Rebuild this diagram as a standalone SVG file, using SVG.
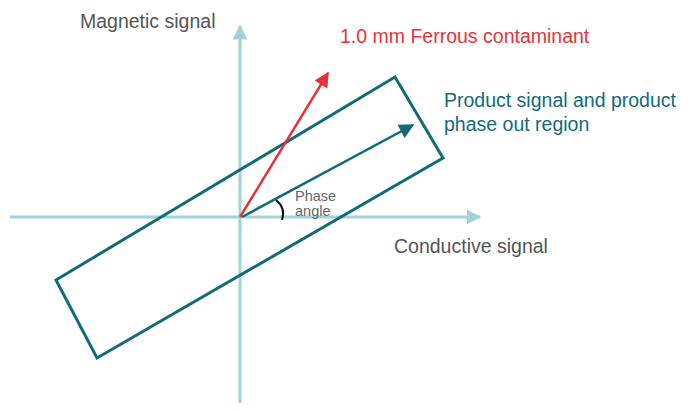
<svg xmlns="http://www.w3.org/2000/svg" width="700" height="412" viewBox="0 0 700 412">
<style>
.ax{stroke:#9fd3dc;stroke-width:3;fill:none}
.t{font-family:"Liberation Sans",Arial,sans-serif}
</style>
<defs>
<marker id="axh" viewBox="0 0 10 10" refX="9" refY="5" markerWidth="5" markerHeight="5" orient="auto"><path d="M0,0L10,5L0,10z" fill="#9fd3dc"/></marker>
<marker id="rh" viewBox="0 0 10 10" refX="9" refY="5" markerWidth="7" markerHeight="6" orient="auto"><path d="M0,0L10,5L0,10z" fill="#e8323a"/></marker>
<marker id="bh" viewBox="0 0 10 10" refX="9" refY="5" markerWidth="7" markerHeight="6" orient="auto"><path d="M0,0L10,5L0,10z" fill="#136b7a"/></marker>
</defs>
<g id="axes">
<line class="ax" x1="240" y1="403" x2="240" y2="26" marker-end="url(#axh)"/>
<line class="ax" x1="10" y1="217" x2="480" y2="217" marker-end="url(#axh)"/>
</g>
<g id="region"><polygon points="56,280 97,358 443,158 395,77" fill="none" stroke="#136b7a" stroke-width="3"/></g>
<g id="connectors">
<line x1="240" y1="217" x2="328" y2="73" stroke="#e8323a" stroke-width="2.5" marker-end="url(#rh)"/>
<line x1="242" y1="217" x2="413" y2="125" stroke="#136b7a" stroke-width="2.5" marker-end="url(#bh)"/>
<path d="M276,200 Q286,208 282,220" fill="none" stroke="#111" stroke-width="2"/>
</g>
<g id="labels" class="t">
<text x="80" y="28" font-size="19.5" fill="#555">Magnetic signal</text>
<text x="340" y="43" font-size="19.5" fill="#e8323a">1.0 mm Ferrous contaminant</text>
<text x="444" y="107" font-size="19.5" fill="#136b7a">Product signal and product</text>
<text x="444" y="131" font-size="19.5" fill="#136b7a">phase out region</text>
<text x="394" y="253" font-size="19.5" fill="#555">Conductive signal</text>
<text x="295" y="201" font-size="14.5" fill="#666">Phase</text>
<text x="295" y="216" font-size="14.5" fill="#666">angle</text>
</g>
</svg>
